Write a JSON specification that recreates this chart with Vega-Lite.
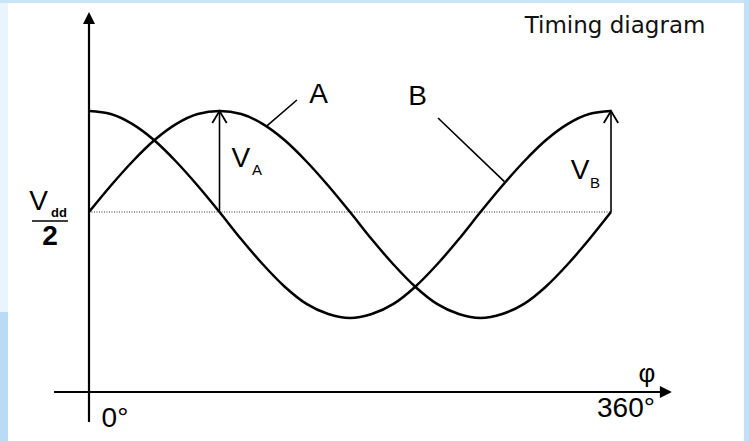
{
  "$schema": "https://vega.github.io/schema/vega-lite/v6.json",
  "width": 749,
  "height": 441,
  "autosize": "none",
  "padding": 0,
  "background": "#eaf4fc",
  "view": {"stroke": null},
  "config": {"font": "Liberation Sans"},
  "datasets": {
    "frame": [
      {"part": "white", "deg": -55.86, "deg2": 451.72, "v": 2.0693, "v2": -2.2673},
      {"part": "top", "deg": -61.38, "deg2": 455.17, "v": 2.099, "v2": 2.0693},
      {"part": "leftlow", "deg": -61.38, "deg2": -55.86, "v": -0.99, "v2": -2.2673},
      {"part": "right", "deg": 451.72, "deg2": 455.17, "v": 2.099, "v2": -2.2673}
    ],
    "curves": [
      {"series": "A", "deg": 0, "v": 0}, {"series": "A", "deg": 15, "v": 0.26}, {"series": "A", "deg": 30, "v": 0.5},
      {"series": "A", "deg": 45, "v": 0.71}, {"series": "A", "deg": 60, "v": 0.87}, {"series": "A", "deg": 75, "v": 0.97},
      {"series": "A", "deg": 90, "v": 1.0}, {"series": "A", "deg": 105, "v": 0.97}, {"series": "A", "deg": 120, "v": 0.87},
      {"series": "A", "deg": 135, "v": 0.71}, {"series": "A", "deg": 150, "v": 0.5}, {"series": "A", "deg": 165, "v": 0.26},
      {"series": "A", "deg": 180, "v": 0}, {"series": "A", "deg": 195, "v": -0.27}, {"series": "A", "deg": 210, "v": -0.52},
      {"series": "A", "deg": 225, "v": -0.74}, {"series": "A", "deg": 240, "v": -0.91}, {"series": "A", "deg": 255, "v": -1.01},
      {"series": "A", "deg": 270, "v": -1.05}, {"series": "A", "deg": 285, "v": -1.01}, {"series": "A", "deg": 300, "v": -0.91},
      {"series": "A", "deg": 315, "v": -0.74}, {"series": "A", "deg": 330, "v": -0.52}, {"series": "A", "deg": 345, "v": -0.27},
      {"series": "A", "deg": 360, "v": 0},
      {"series": "B", "deg": 0, "v": 1.0}, {"series": "B", "deg": 15, "v": 0.97}, {"series": "B", "deg": 30, "v": 0.87},
      {"series": "B", "deg": 45, "v": 0.71}, {"series": "B", "deg": 60, "v": 0.5}, {"series": "B", "deg": 75, "v": 0.26},
      {"series": "B", "deg": 90, "v": 0}, {"series": "B", "deg": 105, "v": -0.27}, {"series": "B", "deg": 120, "v": -0.52},
      {"series": "B", "deg": 135, "v": -0.74}, {"series": "B", "deg": 150, "v": -0.91}, {"series": "B", "deg": 165, "v": -1.01},
      {"series": "B", "deg": 180, "v": -1.05}, {"series": "B", "deg": 195, "v": -1.01}, {"series": "B", "deg": 210, "v": -0.91},
      {"series": "B", "deg": 225, "v": -0.74}, {"series": "B", "deg": 240, "v": -0.52}, {"series": "B", "deg": 255, "v": -0.27},
      {"series": "B", "deg": 270, "v": 0}, {"series": "B", "deg": 285, "v": 0.26}, {"series": "B", "deg": 300, "v": 0.5},
      {"series": "B", "deg": 315, "v": 0.71}, {"series": "B", "deg": 330, "v": 0.87}, {"series": "B", "deg": 345, "v": 0.97},
      {"series": "B", "deg": 360, "v": 1.0}
    ]
  },
  "encoding": {
    "x": {"field": "deg", "type": "quantitative", "axis": null, "scale": {"domain": [-61.379, 455.172], "nice": false, "zero": false}},
    "y": {"field": "v", "type": "quantitative", "axis": null, "scale": {"domain": [-2.2673, 2.099], "nice": false, "zero": false}}
  },
  "layer": [
    {
      "data": {"name": "frame"},
      "mark": {"type": "rect", "strokeWidth": 0},
      "encoding": {
        "x2": {"field": "deg2"},
        "y2": {"field": "v2"},
        "color": {"field": "part", "type": "nominal", "legend": null,
          "scale": {"domain": ["white", "top", "leftlow", "right"], "range": ["#ffffff", "#cbe5f8", "#b9dbf5", "#c2e1f7"]}}
      }
    },
    {
      "data": {"values": [{"deg": 0, "v": 0, "deg2": 360}]},
      "mark": {"type": "rule", "color": "#333333", "strokeWidth": 1, "strokeDash": [1, 1.5]},
      "encoding": {"x2": {"field": "deg2"}}
    },
    {
      "data": {"name": "curves"},
      "mark": {"type": "line", "strokeWidth": 2.5, "interpolate": "monotone", "color": "#000000"},
      "encoding": {
        "detail": {"field": "series", "type": "nominal"}
      }
    },
    {
      "data": {"values": [
        {"what": "yaxis", "deg": 0, "v": -2.079, "deg2": 0, "v2": 1.9},
        {"what": "xaxis", "deg": -24.1, "v": -1.782, "deg2": 396, "v2": -1.782}
      ]},
      "mark": {"type": "rule", "color": "#000000", "strokeWidth": 2.2},
      "encoding": {"x2": {"field": "deg2"}, "y2": {"field": "v2"}}
    },
    {
      "data": {"values": [
        {"what": "VA", "deg": 90, "v": 0, "deg2": 90, "v2": 0.99},
        {"what": "VB", "deg": 360, "v": 0, "deg2": 360, "v2": 0.99},
        {"what": "leaderA", "deg": 143.4, "v": 1.109, "deg2": 122.5, "v2": 0.85},
        {"what": "leaderB", "deg": 240.7, "v": 0.931, "deg2": 286.5, "v2": 0.3},
        {"what": "fraction", "deg": -39.3, "v": -0.089, "deg2": -14.5, "v2": -0.089}
      ]},
      "mark": {"type": "rule", "color": "#000000", "strokeWidth": 1.6},
      "encoding": {"x2": {"field": "deg2"}, "y2": {"field": "v2"}}
    },
    {
      "data": {"values": [{"deg": 0, "v": 1.98}]},
      "mark": {"type": "point", "shape": "M0,0L-0.5,1L0.5,1Z", "size": 576, "filled": true, "color": "#000000", "opacity": 1}
    },
    {
      "data": {"values": [{"deg": 402, "v": -1.782}]},
      "mark": {"type": "point", "shape": "M0,0L-1,-0.5L-1,0.5Z", "size": 576, "filled": true, "color": "#000000", "opacity": 1}
    },
    {
      "data": {"values": [{"deg": 90, "v": 1.0}, {"deg": 360, "v": 1.0}]},
      "mark": {"type": "point", "shape": "M-0.6,1L0,0L0.6,1", "size": 576, "filled": false, "stroke": "#000000", "strokeWidth": 1.8, "opacity": 1}
    },
    {
      "data": {"values": [
        {"label": "A", "deg": 158.3, "v": 1.158},
        {"label": "B", "deg": 226.6, "v": 1.139},
        {"label": "V", "deg": 104.8, "v": 0.525},
        {"label": "V", "deg": 338.6, "v": 0.406},
        {"label": "V", "deg": -34.8, "v": 0.099}
      ]},
      "mark": {"type": "text", "font": "Liberation Sans", "fontSize": 28, "baseline": "middle", "align": "center", "color": "#000000"},
      "encoding": {"text": {"field": "label"}}
    },
    {
      "data": {"values": [
        {"label": "A", "deg": 115.9, "v": 0.416},
        {"label": "B", "deg": 349.0, "v": 0.287}
      ]},
      "mark": {"type": "text", "font": "Liberation Sans", "fontSize": 15, "baseline": "middle", "align": "center", "color": "#000000"},
      "encoding": {"text": {"field": "label"}}
    },
    {
      "data": {"values": [{"label": "dd", "deg": -20.7, "v": -0.01}]},
      "mark": {"type": "text", "font": "Liberation Sans", "fontSize": 13, "fontWeight": "bold", "baseline": "middle", "align": "center", "color": "#000000"},
      "encoding": {"text": {"field": "label"}}
    },
    {
      "data": {"values": [{"label": "2", "deg": -26.9, "v": -0.248}]},
      "mark": {"type": "text", "font": "Liberation Sans", "fontSize": 28, "fontWeight": "bold", "baseline": "middle", "align": "center", "color": "#000000"},
      "encoding": {"text": {"field": "label"}}
    },
    {
      "data": {"values": [{"label": "φ", "deg": 384.8, "v": -1.604}]},
      "mark": {"type": "text", "font": "Liberation Sans", "fontSize": 26, "baseline": "middle", "align": "center", "color": "#000000"},
      "encoding": {"text": {"field": "label"}}
    },
    {
      "data": {"values": [
        {"label": "0°", "deg": 17.9, "v": -2.045},
        {"label": "360°", "deg": 370.3, "v": -1.95}
      ]},
      "mark": {"type": "text", "font": "Liberation Sans", "fontSize": 28, "baseline": "middle", "align": "center", "color": "#000000"},
      "encoding": {"text": {"field": "label"}}
    },
    {
      "data": {"values": [{"label": "Timing diagram", "deg": 362.8, "v": 1.772}]},
      "mark": {"type": "text", "font": "DejaVu Sans", "fontSize": 23, "baseline": "alphabetic", "align": "center", "color": "#111111"},
      "encoding": {"text": {"field": "label"}}
    }
  ]
}
